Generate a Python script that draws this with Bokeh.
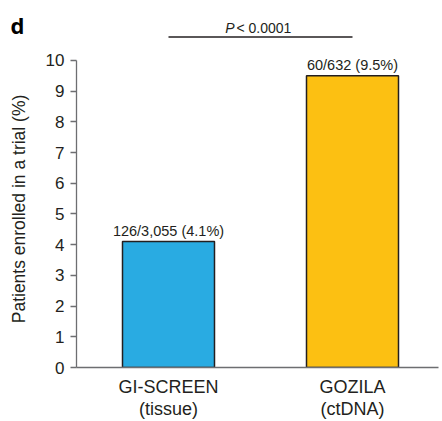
from bokeh.plotting import figure
from bokeh.layouts import column
from bokeh.models import Range1d, FixedTicker, Label, ColumnDataSource
from bokeh.core.properties import value
from bokeh.embed import file_html
from bokeh.resources import INLINE

categories = ["GI-SCREEN\n(tissue)", "GOZILA\n(ctDNA)"]
positions = [1, 2]
percent = [4.1, 9.5]
bar_labels = ["126/3,055 (4.1%)", "60/632 (9.5%)"]
colors = ["#29abe2", "#fcc012"]
y_ticks = [0, 1, 2, 3, 4, 5, 6, 7, 8, 9, 10]
p_value_text = "< 0.0001"
panel_letter = "d"

FONT = "Liberation Sans"
INK = "#231f20"

# ---------- header strip (panel letter + significance bracket) ----------
top = figure(width=442, height=50, output_backend="svg", toolbar_location=None,
             x_range=Range1d(0.08696, 2.48913), y_range=Range1d(10.3226, 11.9355),
             x_axis_location=None, y_axis_location=None,
             min_border_left=0, min_border_right=0, min_border_top=0, min_border_bottom=0)
top.frame_align = False
top.outline_line_color = None
top.grid.grid_line_color = None
top.line(x=positions, y=[10.755, 10.755], line_color=INK, line_width=1.5)
top.add_layout(Label(x=1.3587, y=11.04, text="P", text_font=FONT, text_font_size="14px",
                     text_font_style="italic", text_align="right", text_baseline="alphabetic",
                     text_color=INK))
top.add_layout(Label(x=1.3696, y=11.04, text=p_value_text, text_font=FONT, text_font_size="14px",
                     text_align="left", text_baseline="alphabetic", text_color=INK))
top.add_layout(Label(x=0.1413, y=11.13, text=panel_letter, text_font="Open Sans", text_font_size="22px",
                     text_font_style="bold", text_align="left", text_baseline="alphabetic",
                     text_color="#000000"))

# ---------- main bar chart ----------
p = figure(width=442, height=371, output_backend="svg", toolbar_location=None,
           x_range=Range1d(0.5, 2.4674), y_range=Range1d(0, 10.3226),
           min_border_left=76, min_border_right=4, min_border_top=0, min_border_bottom=51)
p.frame_align = False
p.outline_line_color = None
p.grid.grid_line_color = None

src = ColumnDataSource(dict(x=positions, top=percent, color=colors, label=bar_labels))
p.vbar(x="x", top="top", width=0.5, bottom=0, source=src, fill_color="color",
       line_color=INK, line_width=1.5)
p.text(x="x", y="top", text="label", source=src, text_align="center", text_baseline="bottom",
       y_offset=-3, text_font=value(FONT), text_font_size="14.5px", text_color=INK)

ya = p.yaxis[0]
ya.ticker = FixedTicker(ticks=y_ticks)
ya.bounds = (0, 10)
ya.minor_tick_line_color = None
ya.major_tick_in = 0
ya.major_tick_out = 6
ya.major_label_standoff = 6
ya.axis_line_color = "#6d6e71"
ya.axis_line_width = 1.3
ya.major_tick_line_color = "#6d6e71"
ya.major_tick_line_width = 1.3
ya.major_label_text_font = FONT
ya.major_label_text_font_size = "17px"
ya.major_label_text_color = INK
ya.axis_label = "Patients enrolled in a trial (%)"
ya.axis_label_text_font = FONT
ya.axis_label_text_font_size = "17.5px"
ya.axis_label_text_font_style = "normal"
ya.axis_label_text_color = INK
ya.axis_label_standoff = 14

xa = p.xaxis[0]
xa.ticker = FixedTicker(ticks=positions)
xa.major_label_overrides = {pos: cat for pos, cat in zip(positions, categories)}
xa.minor_tick_line_color = None
xa.major_tick_in = 0
xa.major_tick_out = 0
xa.major_label_standoff = 9
xa.axis_line_color = "#6d6e71"
xa.axis_line_width = 1.3
xa.major_label_text_font = FONT
xa.major_label_text_font_size = "18px"
xa.major_label_text_line_height = 1.1
xa.major_label_text_color = INK

layout = column(top, p, spacing=0)
open("out.html", "w").write(file_html(layout, INLINE))
